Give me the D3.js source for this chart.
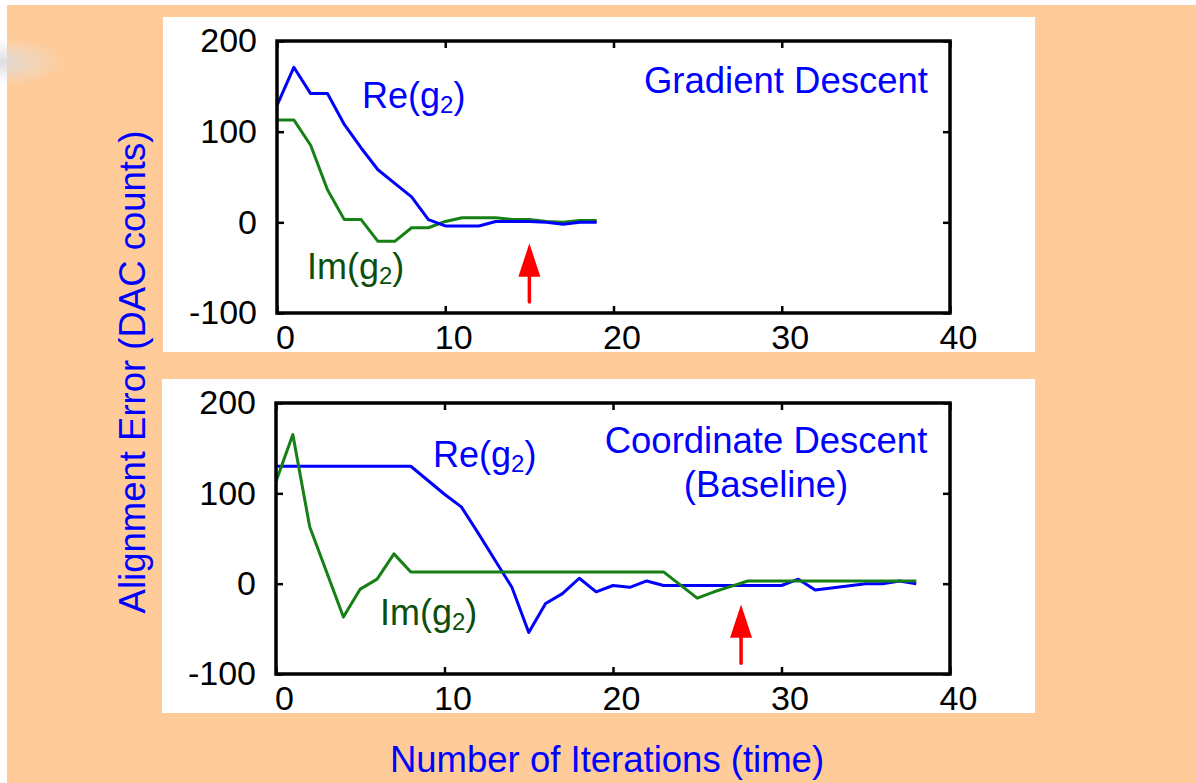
<!DOCTYPE html>
<html>
<head>
<meta charset="utf-8">
<script src="https://cdn.jsdelivr.net/npm/d3@7"></script>
<style>
  body { margin: 0; background: #fff; }
  svg text { font-family: "Liberation Sans", Arial, sans-serif; }
</style>
</head>
<body>
<svg id="chart" width="1196" height="783"></svg>
<script>

// data
var gdIter = [0, 1, 2, 3, 4, 5, 6, 7, 8, 9, 10, 11, 12, 13, 14, 15, 16, 17, 18, 19];
var gdRe   = [129, 171, 142, 142, 108, 82, 58, 43, 28, 3, -4, -4, -4, 1, 1, 1, 0, -2, 0, 0];
var gdIm   = [113, 113, 85, 36, 3, 3, -21, -21, -6, -6, 1, 5, 5, 5, 3, 3, 1, 0, 2, 2];

var cdReIter = [0, 8, 10, 11, 12, 13, 14, 15, 16, 17, 18, 19, 20, 21, 22, 23, 30, 31, 32, 35, 36, 37, 38];
var cdRe     = [130, 130, 99, 85, 56, 26, -4, -54, -22, -11, 6, -9, -2, -4, 3, -2, -2, 5, -7, 0, 0, 3, 0];
var cdImIter = [0, 1, 2, 4, 5, 6, 7, 8, 23, 25, 26, 27, 28, 38];
var cdIm     = [113, 165, 63, -37, -6, 5, 33, 13, 13, -16, -9, -3, 3, 3];

var xTicks = [0, 10, 20, 30, 40];
var yTicks = [-100, 0, 100, 200];
var arrowIter = [15, 27.6]; // where the red arrows point

var blue = "#0000ff", green = "#168016", darkGreen = "#0c4f0c";

var svg = d3.select("#chart");

// slide background
var defs = svg.append("defs");
var grad = defs.append("radialGradient").attr("id", "shade");
grad.append("stop").attr("offset", "0%").attr("stop-color", "#d8d8d8").attr("stop-opacity", 0.9);
grad.append("stop").attr("offset", "100%").attr("stop-color", "#e8e8e8").attr("stop-opacity", 0);

svg.append("rect").attr("width", 1196).attr("height", 783).attr("fill", "#fff");
svg.append("rect").attr("x", 7).attr("y", 5).attr("width", 1189).attr("height", 778).attr("fill", "#fecb99");
svg.append("ellipse").attr("cx", 0).attr("cy", 62).attr("rx", 65).attr("ry", 24).attr("fill", "url(#shade)");

function plain(d) { return String(d); } // keep the hyphen minus of the original

function panel(opts) {
  svg.append("rect")
    .attr("x", opts.box[0]).attr("y", opts.box[1])
    .attr("width", opts.box[2]).attr("height", opts.box[3])
    .attr("fill", "#fff");

  var w = opts.right - opts.left, h = opts.bottom - opts.top;
  var g = svg.append("g").attr("transform", "translate(" + opts.left + "," + opts.top + ")");

  var x = d3.scaleLinear().domain([0, 40]).range([0, w]);
  var y = d3.scaleLinear().domain([-100, 200]).range([h, 0]);

  var line = d3.line()
    .x(function(d) { return x(d[0]); })
    .y(function(d) { return y(d[1]); });

  opts.series.forEach(function(s) {
    g.append("path")
      .datum(d3.zip(s.iter, s.vals))
      .attr("fill", "none")
      .attr("stroke", s.color)
      .attr("stroke-width", 3)
      .attr("stroke-linejoin", "round")
      .attr("d", line);
  });

  // red arrow
  var ax = x(opts.arrow);
  var tip = y(-23), base = y(-60), tail = y(-88);
  g.append("path")
    .attr("d", "M" + ax + "," + tip + "L" + (ax + 11) + "," + base + "L" + (ax - 11) + "," + base + "Z")
    .attr("fill", "#ff0000");
  g.append("line")
    .attr("x1", ax).attr("x2", ax).attr("y1", base).attr("y2", tail)
    .attr("stroke", "#ff0000").attr("stroke-width", 3.5).attr("stroke-linecap", "round");

  // axes, ticks pointing inward
  var bottom = g.append("g").attr("transform", "translate(0," + h + ")")
    .call(d3.axisBottom(x).tickValues(xTicks).tickFormat(plain).tickSizeInner(-7).tickSizeOuter(0).tickPadding(12));
  var left = g.append("g")
    .call(d3.axisLeft(y).tickValues(yTicks).tickFormat(plain).tickSizeInner(-7).tickSizeOuter(0).tickPadding(20));
  g.append("g")
    .call(d3.axisTop(x).tickValues(xTicks).tickSizeInner(-7).tickSizeOuter(0).tickFormat(""));
  g.append("g").attr("transform", "translate(" + w + ",0)")
    .call(d3.axisRight(y).tickValues(yTicks).tickSizeInner(-7).tickSizeOuter(0).tickFormat(""));

  g.selectAll(".domain").remove();
  g.selectAll(".tick line").attr("stroke", "#000").attr("stroke-width", 2.5);
  g.selectAll(".tick text")
    .attr("fill", "#000")
    .style("font-size", "34px")
    .style("font-family", "'Liberation Sans', Arial, sans-serif");
  bottom.selectAll("text").attr("dx", 8);

  g.append("rect")
    .attr("width", w).attr("height", h)
    .attr("fill", "none").attr("stroke", "#000").attr("stroke-width", 3.5);

  // series labels with subscript
  opts.labels.forEach(function(l) {
    var t = g.append("text").attr("x", l.pos[0]).attr("y", l.pos[1])
      .attr("fill", l.color).style("font-size", "36px");
    t.append("tspan").text(l.name + "(g");
    t.append("tspan").attr("dy", 5).style("font-size", "24px").text("2");
    t.append("tspan").attr("dy", -5).text(")");
  });
  opts.titles.forEach(function(l) {
    g.append("text").attr("x", l.pos[0]).attr("y", l.pos[1])
      .attr("text-anchor", l.anchor)
      .attr("fill", blue).style("font-size", "36.5px")
      .text(l.text);
  });
}

panel({
  box: [163, 17, 872, 335],
  left: 277, right: 950, top: 41, bottom: 313,
  series: [
    { iter: gdIter, vals: gdIm, color: green },
    { iter: gdIter, vals: gdRe, color: blue }
  ],
  arrow: arrowIter[0],
  labels: [
    { name: "Re", pos: [85, 67], color: blue },
    { name: "Im", pos: [30, 238], color: darkGreen }
  ],
  titles: [
    { text: "Gradient Descent", pos: [651, 52], anchor: "end" }
  ]
});

panel({
  box: [162, 379, 873, 334],
  left: 276, right: 950, top: 403, bottom: 674,
  series: [
    { iter: cdReIter, vals: cdRe, color: blue },
    { iter: cdImIter, vals: cdIm, color: green }
  ],
  arrow: arrowIter[1],
  labels: [
    { name: "Re", pos: [157, 64], color: blue },
    { name: "Im", pos: [104, 222], color: darkGreen }
  ],
  titles: [
    { text: "Coordinate Descent", pos: [490, 50], anchor: "middle" },
    { text: "(Baseline)", pos: [490, 94], anchor: "middle" }
  ]
});

// shared axis titles
svg.append("text")
  .attr("transform", "translate(145,372) rotate(-90)")
  .attr("text-anchor", "middle")
  .attr("fill", blue)
  .style("font-size", "36.5px")
  .text("Alignment Error (DAC counts)");

svg.append("text")
  .attr("x", 607).attr("y", 772)
  .attr("text-anchor", "middle")
  .attr("fill", blue)
  .style("font-size", "36.5px")
  .text("Number of Iterations (time)");

</script>
</body>
</html>
